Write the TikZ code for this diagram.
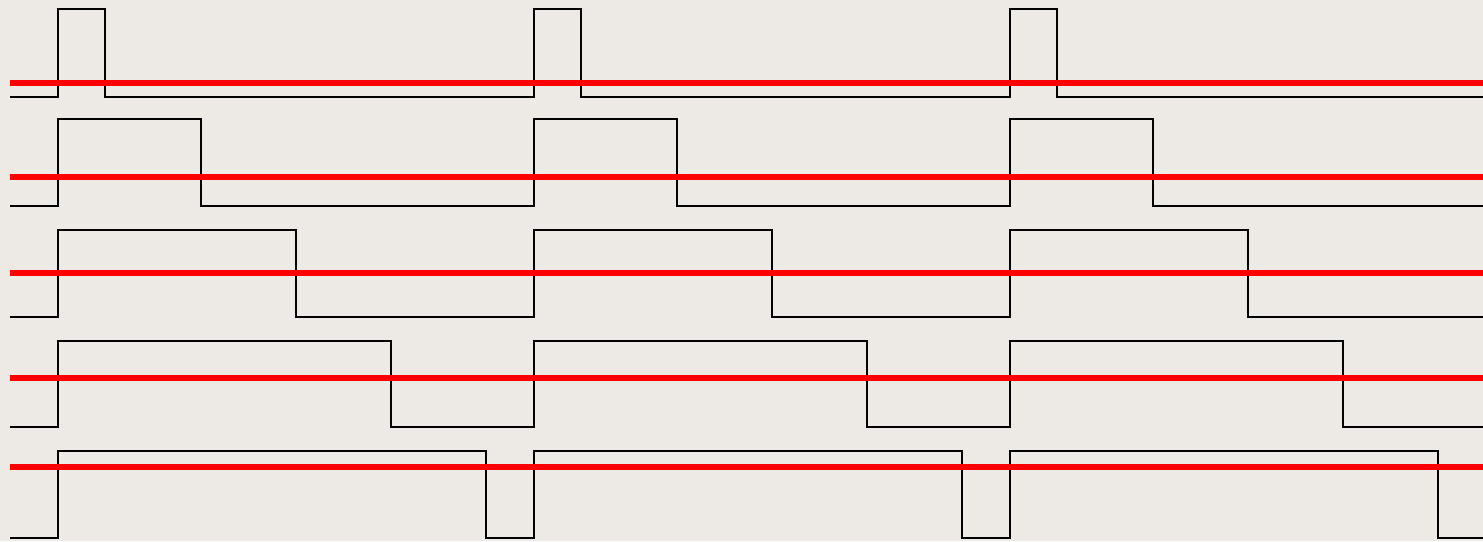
\documentclass[tikz,border=0pt]{standalone}
\usepackage{xcolor}
\definecolor{BgPaper}{HTML}{EDEAE6}
\definecolor{AvgRed}{HTML}{FF0000}

\begin{document}
\begin{tikzpicture}[x=0.5pt, y=-0.5pt,
  wave/.style={draw=black, line width=1pt},
  avg/.style={draw=AvgRed, line width=2.6pt}
]
  % Page and faded backdrop
  \fill[BgPaper] (0,0) rectangle (1483,541);
  \useasboundingbox (0,0) rectangle (1483,541);

  % PWM rows: high / low / pulse width / mean level
  \foreach \hi/\lo/\w/\mean in {9/97/47/83, 119/206/143/177, 230/317/238/273,
                                 341/427/333/378, 451/538/428/467} {
    \draw[wave] (10,\lo) -- (58,\lo) -- (58,\hi) -- ++(\w,0) |- (534,\lo)
      -- (534,\hi) -- ++(\w,0) |- (1010,\lo)
      -- (1010,\hi) -- ++(\w,0) |- (1483,\lo);
    \draw[avg] (10,\mean) -- (1483,\mean); % average level
  }
\end{tikzpicture}
\end{document}
